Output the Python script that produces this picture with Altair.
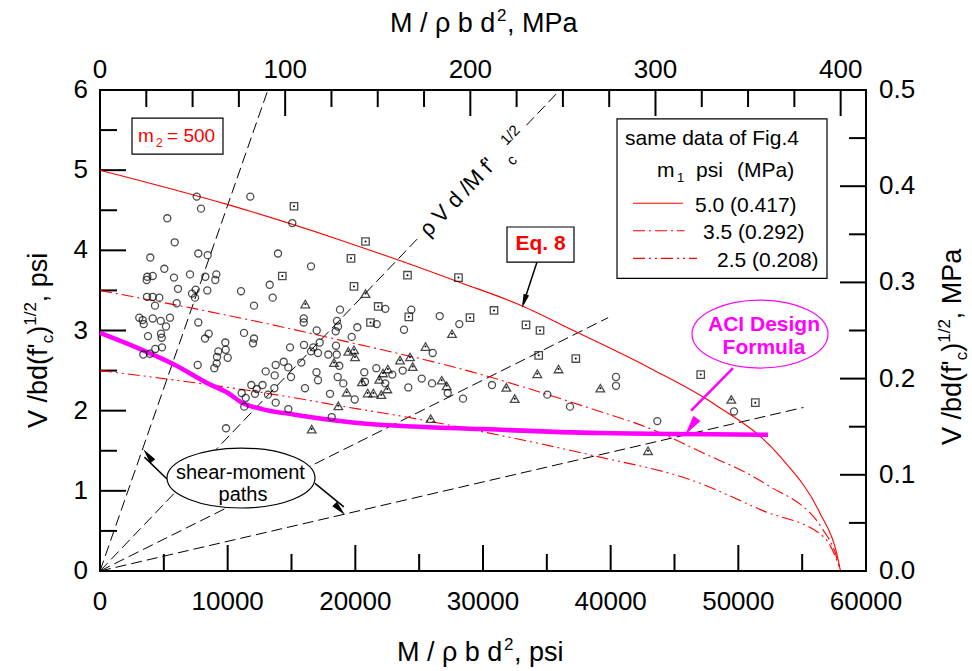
import altair as alt
import pandas as pd

FONT = "Liberation Sans"

# ---------------- data ----------------
circ_x = [7575, 11773, 7911, 5272, 15063, 5851, 13943, 7700, 8436, 3940,
          16528, 5037, 7050, 3705, 4128, 5796, 8248, 9110, 9032, 3658,
          6110, 7496, 8405, 11045, 13293, 13527, 7206, 7441, 3682, 4128,
          4645, 4308, 6008, 12063, 3078, 3345, 4128, 4755, 5483, 3423,
          5170, 7700, 11280, 4778, 4833, 3760, 8515, 8225, 12063, 11985,
          9815, 4856, 4332, 9846, 9267, 10003, 9165, 3392, 3917, 7653,
          9141, 8953, 13763, 14389, 14883, 15956, 15956, 18799, 18564, 18643,
          18462, 16974, 22348, 24384, 26609, 21674, 20155, 23812, 28144, 19716,
          15979, 17209, 16708, 16528, 18486, 17076, 17883, 26060, 14750, 15768,
          18744, 16959, 14961, 17076, 18619, 20703, 21643, 22896, 23710, 19058,
          20757, 22348, 25199, 26006, 24149, 16058, 27235, 28434, 30705, 35037,
          36815, 19951, 40418, 40418, 43653, 49661, 12979, 13684, 11099, 11413,
          11851, 12274, 12729, 12141, 13159, 13653, 13763, 11303, 9870, 14750,
          18016, 18149, 18541]
circ_y = [4.67, 4.67, 4.52, 4.40, 4.34, 4.10, 3.96, 3.96, 3.94, 3.91,
          3.80, 3.77, 3.70, 3.67, 3.68, 3.66, 3.67, 3.70, 3.63, 3.63,
          3.52, 3.51, 3.50, 3.49, 3.57, 3.41, 3.46, 3.41, 3.42, 3.42,
          3.41, 3.31, 3.34, 3.31, 3.16, 3.13, 3.15, 3.12, 3.16, 3.08,
          3.05, 3.10, 2.97, 2.96, 2.91, 2.93, 2.96, 2.90, 2.90, 2.84,
          2.85, 2.79, 2.77, 2.76, 2.74, 2.66, 2.67, 2.70, 2.71, 2.57,
          2.59, 2.53, 2.57, 2.61, 2.79, 3.15, 3.10, 3.26, 3.12, 3.05,
          2.99, 3.00, 3.27, 3.26, 3.18, 3.08, 3.04, 3.01, 3.08, 2.92,
          2.82, 2.85, 2.79, 2.74, 2.81, 2.72, 2.70, 2.72, 2.54, 2.60,
          2.56, 2.48, 2.42, 2.38, 2.42, 2.48, 2.53, 2.45, 2.50, 2.34,
          2.36, 2.34, 2.40, 2.34, 2.29, 2.28, 2.22, 2.15, 2.32, 2.20,
          2.05, 2.14, 2.42, 2.31, 1.87, 1.99, 2.49, 2.44, 2.22, 2.16,
          2.32, 2.27, 2.32, 2.21, 2.20, 2.28, 2.10, 2.05, 1.78, 2.02,
          2.21, 1.92, 2.70]

sq_x = [15196, 14280, 19661, 19896, 20797, 24086, 28081, 21791, 24188, 21188,
        28982, 30862, 33369, 34465, 34363, 37269, 47053, 51330]
sq_y = [4.55, 3.68, 3.90, 3.55, 4.11, 3.69, 3.66, 3.30, 3.17, 3.10,
        3.16, 3.25, 3.07, 3.00, 2.69, 2.65, 2.45, 2.10]

tri_x = [16081, 20797, 27572, 25496, 19450, 19896, 19974, 18329, 23499, 24282,
         24494, 22543, 22167, 20522, 21878, 26765, 27157, 19324, 20969, 21408,
         22034, 22504, 31825, 32483, 34254, 35914, 25904, 39189, 49450, 42925,
         18666, 16583]
tri_y = [3.33, 3.46, 2.96, 2.80, 2.74, 2.76, 2.67, 2.60, 2.63, 2.67,
         2.55, 2.52, 2.47, 2.36, 2.39, 2.38, 2.31, 2.23, 2.22, 2.22,
         2.20, 2.27, 2.29, 2.15, 2.46, 2.52, 1.90, 2.28, 2.14, 1.50,
         2.06, 1.77]

# Eq. 8 curves, m2 = 500
m50_x = [0, 10026, 18799, 23366, 28199, 33032, 37207, 43082, 48040, 53264, 56398, 57706, 58000]
m50_y = [5.00, 4.57, 4.13, 3.88, 3.60, 3.31, 2.99, 2.53, 2.09, 1.43, 0.72, 0.22, 0.00]
m35_x = [0, 14100, 18800, 28982, 38381, 43341, 47000, 52090, 56656, 57600, 58000]
m35_y = [3.50, 3.05, 2.88, 2.49, 2.03, 1.76, 1.49, 1.09, 0.51, 0.22, 0.00]
m25_x = [0, 14883, 18800, 24017, 29241, 38906, 46215, 51958, 56656, 57600, 58000]
m25_y = [2.50, 2.17, 2.06, 1.92, 1.76, 1.43, 1.14, 0.75, 0.43, 0.18, 0.00]

# ACI design formula
aci_x = [0, 2977, 5875, 8460, 10026, 11123, 12689, 15274, 19974, 30000, 39167, 52325]
aci_y = [2.97, 2.78, 2.57, 2.34, 2.22, 2.10, 2.02, 1.95, 1.85, 1.77, 1.72, 1.70]

# shear-moment paths (from origin)
path_id = ["A", "A", "B1", "B1", "B2", "B2", "C", "C", "D", "D"]
path_x = [0, 13150, 0, 24900, 33400, 36033, 0, 39800, 0, 55100]
path_y = [0, 6.0, 0, 4.15, 5.56, 6.0, 0, 3.16, 0, 2.04]

# axis tick values and labels
bot_major = [0, 10000, 20000, 30000, 40000, 50000, 60000]
bot_labels = ["0", "10000", "20000", "30000", "40000", "50000", "60000"]
bot_minor = [5000, 15000, 25000, 35000, 45000, 55000]
left_major = [0, 1, 2, 3, 4, 5, 6]
left_labels = ["0", "1", "2", "3", "4", "5", "6"]
left_minor = [0.5, 1.5, 2.5, 3.5, 4.5, 5.5]
top_major = [0, 100, 200, 300, 400]
top_labels = ["0", "100", "200", "300", "400"]
top_minor = [25, 50, 75, 125, 150, 175, 225, 250, 275, 325, 350, 375]
right_major = [0.0, 0.1, 0.2, 0.3, 0.4, 0.5]
right_labels = ["0.0", "0.1", "0.2", "0.3", "0.4", "0.5"]
right_minor = [0.05, 0.15, 0.25, 0.35, 0.45]

W, H = 766, 481
X = alt.Scale(domain=[0, 60000], nice=False, zero=False)
Y = alt.Scale(domain=[0, 6], nice=False, zero=False)
XT = alt.Scale(domain=[0, 413.69], nice=False, zero=False)
YR = alt.Scale(domain=[0, 0.5], nice=False, zero=False)
LF = 26  # tick label font size


def enc(xf="x", yf="y"):
    return dict(x=alt.X(f"{xf}:Q", scale=X, axis=None), y=alt.Y(f"{yf}:Q", scale=Y, axis=None))


def rule_x(vals, scale, y1, y2):
    return alt.Chart(pd.DataFrame({"v": vals})).mark_rule(color="black", strokeWidth=2).encode(
        x=alt.X("v:Q", scale=scale, axis=None), y=alt.value(y1), y2=alt.value(y2))


def rule_y(vals, scale, x1, x2):
    return alt.Chart(pd.DataFrame({"v": vals})).mark_rule(color="black", strokeWidth=2).encode(
        y=alt.Y("v:Q", scale=scale, axis=None), x=alt.value(x1), x2=alt.value(x2))


def labels_x(vals, labs, scale, ypix, baseline):
    return alt.Chart(pd.DataFrame({"v": vals, "t": labs})).mark_text(
        font=FONT, fontSize=LF, color="black", align="center", baseline=baseline).encode(
        x=alt.X("v:Q", scale=scale, axis=None), y=alt.value(ypix), text="t:N")


def labels_y(vals, labs, scale, xpix, align):
    return alt.Chart(pd.DataFrame({"v": vals, "t": labs})).mark_text(
        font=FONT, fontSize=LF, color="black", align=align, baseline="middle").encode(
        y=alt.Y("v:Q", scale=scale, axis=None), x=alt.value(xpix), text="t:N")


layers = []

# ticks (inward) and labels for bottom / left
layers.append(rule_x(bot_major, X, H, H - 26))
layers.append(rule_x(bot_minor, X, H, H - 17))
layers.append(rule_y(left_major, Y, 0, 26))
layers.append(rule_y(left_minor, Y, 0, 17))
layers.append(labels_x(bot_major, bot_labels, X, H + 18, "top"))
layers.append(labels_y(left_major, left_labels, Y, -12, "right"))

# shear-moment paths
pdf = pd.DataFrame({"id": path_id, "x": path_x, "y": path_y})
layers.append(alt.Chart(pdf).mark_line(color="black", strokeWidth=1, strokeDash=[11, 5]).encode(
    detail="id:N", **enc()))

# Eq. 8 curves
for xs, ys, dash in [(m50_x, m50_y, None), (m35_x, m35_y, [12, 4, 2, 4]), (m25_x, m25_y, [12, 4, 2, 4, 2, 4])]:
    kw = dict(color="#ff0000", strokeWidth=1.1, interpolate="monotone")
    if dash:
        kw["strokeDash"] = dash
    layers.append(alt.Chart(pd.DataFrame({"x": xs, "y": ys})).mark_line(**kw).encode(**enc()))

# ACI
layers.append(alt.Chart(pd.DataFrame({"x": aci_x, "y": aci_y})).mark_line(
    color="#ff00ff", strokeWidth=4.5, interpolate="monotone").encode(**enc()))

# points
cdf = pd.DataFrame({"x": circ_x, "y": circ_y})
sdf = pd.DataFrame({"x": sq_x, "y": sq_y})
tdf = pd.DataFrame({"x": tri_x, "y": tri_y})
layers.append(alt.Chart(cdf).mark_point(shape="circle", size=50, color="black", strokeWidth=1.3, filled=False).encode(**enc()))
layers.append(alt.Chart(sdf).mark_point(shape="square", size=55, color="black", strokeWidth=1.3, filled=False).encode(**enc()))
layers.append(alt.Chart(tdf).mark_point(shape="triangle-up", size=75, color="black", strokeWidth=1.3, filled=False).encode(**enc()))
layers.append(alt.Chart(pd.concat([sdf, tdf])).mark_circle(size=4, color="black", opacity=1).encode(**enc()))

# ---------------- annotations ----------------
ARROW = "M0,0L0.42,2L-0.42,2Z"


def box(x1, x2, y1, y2, stroke="black"):
    d = pd.DataFrame({"x": [x1], "x2": [x2], "y": [y1], "y2": [y2]})
    return alt.Chart(d).mark_rect(fill="white", stroke=stroke, strokeWidth=1.2).encode(
        x=alt.X("x:Q", scale=X, axis=None), x2="x2:Q", y=alt.Y("y:Q", scale=Y, axis=None), y2="y2:Q")


def seg(x1, y1, x2, y2, color="black", width=1.5):
    d = pd.DataFrame({"x": [x1, x2], "y": [y1, y2]})
    return alt.Chart(d).mark_line(color=color, strokeWidth=width).encode(**enc())


def head(x, y, ang, color="black", size=196):
    d = pd.DataFrame({"x": [x], "y": [y]})
    return alt.Chart(d).mark_point(shape=ARROW, size=size, angle=ang, filled=True, color=color,
                                   opacity=1).encode(**enc())


def ellipse(x, y, width, ratio, color):
    path = f"M-1,0A1,{ratio},0,1,1,1,0A1,{ratio},0,1,1,-1,0Z"
    d = pd.DataFrame({"x": [x], "y": [y]})
    return alt.Chart(d).mark_point(shape=path, size=width * width, fill="white", fillOpacity=1,
                                   stroke=color, strokeWidth=1.2, opacity=1).encode(**enc())


def txt(s, x, y, size=21, color="black", align="left", baseline="alphabetic", weight="normal",
        angle=0, dx=0, dy=0):
    d = pd.DataFrame({"x": [x], "y": [y]})
    return alt.Chart(d).mark_text(text=s, font=FONT, fontSize=size, color=color, align=align,
                                  baseline=baseline, fontWeight=weight, angle=angle, dx=dx,
                                  dy=dy).encode(**enc())


# m2 box
layers.append(box(2507, 9635, 5.20, 5.65))
layers.append(txt("m", 2977, 5.351, size=19, color="#ff0000"))
layers.append(txt("2", 2977, 5.351, size=12, color="#ff0000", dx=18, dy=5))
layers.append(txt("= 500", 2977, 5.351, size=19, color="#ff0000", dx=29))

# legend box
layers.append(box(40497, 56946, 3.65, 5.64))
layers.append(txt("same data of Fig.4", 41123, 5.314, size=21))
layers.append(txt("m", 43630, 4.918, size=21))
layers.append(txt("1", 45197, 4.918, size=13, dy=5))
layers.append(txt("psi", 46685, 4.918, size=21))
layers.append(txt("(MPa)", 49896, 4.918, size=21))
layers.append(alt.Chart(pd.DataFrame({"x": [41750], "x2": [45666], "y": [4.587]})).mark_rule(
    color="#ff0000", strokeWidth=1.1).encode(x=alt.X("x:Q", scale=X, axis=None), x2="x2:Q",
                                             y=alt.Y("y:Q", scale=Y, axis=None)))
layers.append(alt.Chart(pd.DataFrame({"x": [41750], "x2": [45800], "y": [4.245]})).mark_rule(
    color="#ff0000", strokeWidth=1.1, strokeDash=[12, 4, 2, 4]).encode(
    x=alt.X("x:Q", scale=X, axis=None), x2="x2:Q", y=alt.Y("y:Q", scale=Y, axis=None)))
layers.append(alt.Chart(pd.DataFrame({"x": [41750], "x2": [46763], "y": [3.900]})).mark_rule(
    color="#ff0000", strokeWidth=1.1, strokeDash=[12, 4, 2, 4, 2, 4]).encode(
    x=alt.X("x:Q", scale=X, axis=None), x2="x2:Q", y=alt.Y("y:Q", scale=Y, axis=None)))
layers.append(txt("5.0 (0.417)", 46606, 4.482, size=21))
layers.append(txt("3.5 (0.292)", 47233, 4.141, size=21))
layers.append(txt("2.5 (0.208)", 48330, 3.796, size=21))

# Eq. 8 label
layers.append(seg(34230, 3.854, 33150, 3.33, width=1.5))
layers.append(head(33055, 3.281, 198))
layers.append(box(31880, 37128, 3.854, 4.291))
layers.append(txt("Eq. 8", 34504, 4.073, size=21, color="#ff0000", align="center", baseline="middle",
                  weight="bold"))

# ACI label
layers.append(seg(49583, 2.532, 46300, 2.0, color="#ff00ff", width=2.5))
layers.append(head(45823, 1.696, 215.6, color="#ff00ff", size=420))
layers.append(ellipse(51698, 2.956, 136, 0.5, "#ff00ff"))
layers.append(txt("ACI Design", 52011, 2.994, size=21, color="#ff00ff", align="center", weight="bold"))
layers.append(txt("Formula", 52011, 2.707, size=21, color="#ff00ff", align="center", weight="bold"))

# shear-moment paths label
layers.append(seg(5248, 1.148, 3480, 1.42, width=1.5))
layers.append(head(3392, 1.518, 321.4, size=230))
layers.append(seg(16841, 1.094, 19100, 0.80, width=1.5))
layers.append(head(19191, 0.699, 136.6, size=230))
layers.append(ellipse(11045, 1.160, 148, 0.405, "black"))
layers.append(txt("shear-moment", 10997, 1.148, size=20, align="center"))
layers.append(txt("paths", 11201, 0.879, size=20, align="center"))

# rho V d / M f'c^1/2 label along path B
layers.append(txt("ρ V d /M f'", 28000, 4.662, size=22, align="center", baseline="middle", angle=313.7))
layers.append(txt("c", 32250, 5.127, size=15, align="center", baseline="middle", angle=313.7))
layers.append(txt("1/2", 32115, 5.438, size=15, align="center", baseline="middle", angle=313.7))

# ---------------- axis titles (composed) ----------------
TF, SF = 27, 17


def ptxt(s, px, py, size=TF, angle=0):
    return alt.Chart(pd.DataFrame({"a": [0]})).mark_text(
        text=s, font=FONT, fontSize=size, color="black", align="left", baseline="alphabetic",
        angle=angle).encode(x=alt.value(px), y=alt.value(py))


title_pieces = [
    ("M / ρ b d", 290, -58, TF, 0), ("2", 397, -69, SF, 0), (", MPa", 407, -58, TF, 0),
    ("M / ρ b d", 297, 571, TF, 0), ("2", 404, 560, SF, 0), (", psi", 414, 571, TF, 0),
    ("V /bd(f'", -53, 338, TF, 270), ("c", -47, 253.3, SF, 270), (")", -53, 244.8, TF, 270),
    ("1/2", -64, 235.8, SF, 270), (" , psi", -53, 212.2, TF, 270),
    ("V /bd(f'", 861, 355, TF, 270), ("c", 867, 270.3, SF, 270), (")", 861, 261.8, TF, 270),
    ("1/2", 850, 252.8, SF, 270), (" , MPa", 861, 229.2, TF, 270),
]
for s, px, py, sz, ang in title_pieces:
    layers.append(ptxt(s, px, py, sz, ang))

main = alt.layer(*layers)

# top axis (MPa)
top = alt.layer(
    rule_x(top_major, XT, 0, 26),
    rule_x(top_minor, XT, 0, 17),
    labels_x(top_major, top_labels, XT, -12, "alphabetic"),
)

# right axis (MPa)
right = alt.layer(
    rule_y(right_major, YR, W, W - 26),
    rule_y(right_minor, YR, W, W - 17),
    labels_y(right_major, right_labels, YR, W + 13, "left"),
)

chart = alt.layer(main, top, right).resolve_scale(x="independent", y="independent").properties(
    width=W, height=H,
    autosize=alt.AutoSizeParams(type="none"),
    padding={"left": 100, "top": 90, "right": 106, "bottom": 100},
    background="white",
).configure_view(stroke="black", strokeWidth=2)

chart.save("out.html", embed_options={"renderer": "svg", "actions": False})
